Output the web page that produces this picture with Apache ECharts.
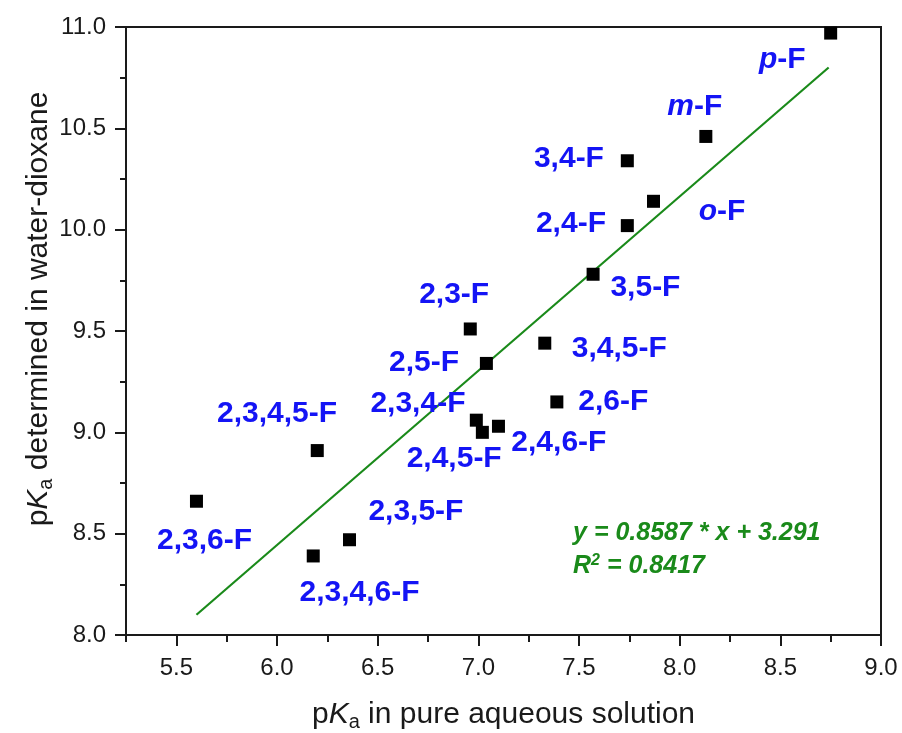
<!DOCTYPE html>
<html>
<head>
<meta charset="utf-8">
<title>pKa</title>
<script src="https://cdn.jsdelivr.net/npm/echarts@6/dist/echarts.min.js"></script>
<style>
html,body{margin:0;padding:0;background:#fff;}
#main{width:902px;height:733px;}
</style>
</head>
<body>
<div id="main"></div>
<script>
// 化合物名称
var names = ['p-F','m-F','3,4-F','o-F','2,4-F','3,5-F','3,4,5-F','2,6-F','2,4,6-F','2,3-F','2,5-F','2,3,4-F','2,4,5-F','2,3,4,5-F','2,3,6-F','2,3,4,6-F','2,3,5-F'];
// pKa in pure aqueous solution
var pkaWater = [8.75, 8.13, 7.74, 7.87, 7.74, 7.57, 7.33, 7.39, 7.10, 6.96, 7.04, 6.99, 7.02, 6.20, 5.60, 6.18, 6.36];
// pKa determined in water-dioxane
var pkaDiox = [10.97, 10.46, 10.34, 10.14, 10.02, 9.78, 9.44, 9.15, 9.03, 9.51, 9.34, 9.06, 9.00, 8.91, 8.66, 8.39, 8.47];
// label anchors (data coordinates)
var labelX = [8.51, 8.075, 7.45, 8.21, 7.46, 7.83, 7.70, 7.67, 7.40, 6.88, 6.73, 6.70, 6.88, 6.00, 5.64, 6.41, 6.69];
var labelY = [10.84, 10.605, 10.35, 10.09, 10.03, 9.714, 9.414, 9.151, 8.947, 9.681, 9.344, 9.14, 8.872, 9.09, 8.465, 8.21, 8.607];
// 拟合线端点
var fitX = [5.60, 8.74];
var fitY = [8.10, 10.80];
var eqText = ['y = 0.8587 * x + 3.291', '0.8417'];
var eqPos = [7.468, 8.42];
var xMajor = [5.5, 6.0, 6.5, 7.0, 7.5, 8.0, 8.5, 9.0];

var FONT = '"Liberation Sans", Arial, sans-serif';
var BLUE = '#1414f5';
var GREEN = '#1a8a1a';
var AXIS = '#1a1a1a';

var chart = echarts.init(document.getElementById('main'));

var points = [];
var labels = [];
for (var i = 0; i < names.length; i++) {
	points.push([pkaWater[i], pkaDiox[i]]);
	labels.push({name: names[i], value: [labelX[i], labelY[i]]});
}

var titleRich = {
	n: {fontSize: 30, fontFamily: FONT, color: AXIS},
	i: {fontSize: 30, fontFamily: FONT, fontStyle: 'italic', color: AXIS},
	s: {fontSize: 20, fontFamily: FONT, color: AXIS, padding: [15, 0, 0, 0]}
};

var option = {
	animation: false,
	grid: {
		left: 126, right: 21, top: 27, bottom: 98,
		outerBoundsMode: 'none', containLabel: false,
		show: true, borderColor: AXIS, borderWidth: 2
	},
	xAxis: [
		{
			type: 'value', min: 5.25, max: 9, interval: 0.25,
			position: 'bottom',
			axisLine: {show: true, lineStyle: {color: AXIS, width: 2}},
			axisTick: {show: true, length: 7, lineStyle: {color: AXIS, width: 2}},
			splitLine: {show: false},
			axisLabel: {
				color: AXIS, fontSize: 24, fontFamily: FONT, margin: 21,
				customValues: xMajor,
				formatter: function (v) { return v.toFixed(1); }
			},
			name: '{n|p}{i|K}{s|a}{n| in pure aqueous solution}',
			nameLocation: 'middle', nameGap: 62, nameMoveOverlap: false,
			nameTextStyle: {color: AXIS, fontFamily: FONT, fontSize: 30, rich: titleRich}
		},
		{
			type: 'value', min: 5.25, max: 9, interval: 0.25,
			position: 'bottom',
			axisLine: {show: false},
			axisTick: {show: true, length: 11, customValues: xMajor, lineStyle: {color: AXIS, width: 2}},
			axisLabel: {show: false},
			splitLine: {show: false}
		}
	],
	yAxis: {
		type: 'value', min: 8, max: 11, interval: 0.5,
		axisLine: {show: true, lineStyle: {color: AXIS, width: 2}},
		axisTick: {show: true, length: 11, lineStyle: {color: AXIS, width: 2}},
		minorTick: {show: true, splitNumber: 2, length: 6, lineStyle: {color: AXIS, width: 2}},
		splitLine: {show: false},
		axisLabel: {
			color: AXIS, fontSize: 24, fontFamily: FONT, margin: 20,
			formatter: function (v) { return v.toFixed(1); }
		},
		name: '{n|p}{i|K}{s|a}{n| determined in water-dioxane}',
		nameLocation: 'middle', nameGap: 70, nameMoveOverlap: false,
		nameTextStyle: {color: AXIS, fontFamily: FONT, fontSize: 30, padding: [0, 0, 0, 44], rich: titleRich}
	},
	series: [
		{
			type: 'line',
			data: [[fitX[0], fitY[0]], [fitX[1], fitY[1]]],
			symbol: 'none',
			lineStyle: {color: GREEN, width: 2.2},
			z: 2
		},
		{
			type: 'scatter',
			data: points,
			symbol: 'rect',
			symbolSize: 13,
			itemStyle: {color: '#000', opacity: 1},
			clip: false,
			z: 3
		},
		{
			type: 'scatter',
			data: labels,
			symbolSize: 1,
			itemStyle: {color: 'rgba(0,0,0,0)', opacity: 1},
			silent: true,
			label: {
				show: true, position: 'inside', opacity: 1,
				formatter: function (p) {
					var n = p.name;
					if (/^[pmo]-/.test(n)) {
						return '{it|' + n.charAt(0) + '}{b|' + n.slice(1) + '}';
					}
					return '{b|' + n + '}';
				},
				rich: {
					b: {fontSize: 30, fontWeight: 'bold', fontFamily: FONT, color: BLUE},
					it: {fontSize: 30, fontWeight: 'bold', fontStyle: 'italic', fontFamily: FONT, color: BLUE}
				}
			},
			z: 4
		},
		{
			type: 'scatter',
			data: [eqPos],
			symbolSize: 1,
			itemStyle: {color: 'rgba(0,0,0,0)', opacity: 1},
			silent: true,
			label: {
				show: true, position: 'right', distance: 0, opacity: 1,
				formatter: '{e|' + eqText[0] + '}\n{e|R}{sup|2}{e| = ' + eqText[1] + '}',
				rich: {
					e: {fontSize: 25, fontWeight: 'bold', fontStyle: 'italic', fontFamily: FONT, color: GREEN, lineHeight: 33},
					sup: {fontSize: 16, fontWeight: 'bold', fontStyle: 'italic', fontFamily: FONT, color: GREEN, padding: [0, 0, 12, 0]}
				}
			},
			z: 4
		}
	]
};
chart.setOption(option);
</script>
</body>
</html>
